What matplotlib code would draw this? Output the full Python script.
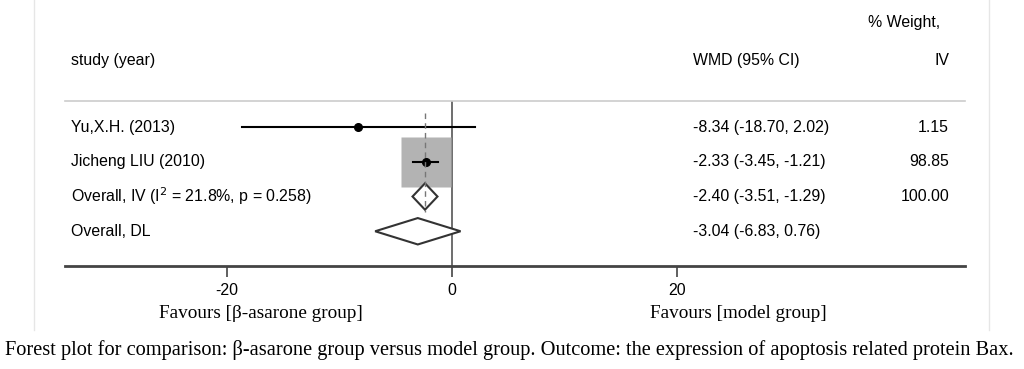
import matplotlib.pyplot as plt
from matplotlib.patches import Polygon

plt.rcParams['font.family'] = ['Liberation Sans', 'DejaVu Sans']

# data
studies = ['Yu,X.H. (2013)', 'Jicheng LIU (2010)']
est = [-8.34, -2.33]
lo = [-18.70, -3.45]
hi = [2.02, -1.21]
weight = [1.15, 98.85]

pooled_labels = ['Overall, IV (I$^{2}$ = 21.8%, p = 0.258)', 'Overall, DL']
pooled_est = [-2.40, -3.04]
pooled_lo = [-3.51, -6.83]
pooled_hi = [-1.29, 0.76]
pooled_weight = ['100.00', '']

xticks = [-20, 0, 20]

W, H = 1024, 369
fig = plt.figure(figsize=(W / 100, H / 100), dpi=100)
ax = fig.add_axes([65 / W, 1 - 266 / H, 900 / W, 165 / H])
ax.set_xlim(-34.4, 45.6)
ax.set_ylim(4.0, -0.75)

fs = 11.4
n = len(studies)
rows_all = list(range(n + len(pooled_labels)))

# study boxes and CIs
for i in range(n):
    ms = 35.3 * (weight[i] / max(weight)) ** 0.5
    ax.plot(est[i], i, marker='s', ms=ms, color='#b3b3b3', mec='none', zorder=1)
    ax.plot([lo[i], hi[i]], [i, i], color='black', lw=1.5, zorder=3)
    ax.plot(est[i], i, marker='o', ms=5.5, color='black', zorder=4)

# pooled diamonds
for j in range(len(pooled_labels)):
    r = n + j
    h = 0.38
    d = Polygon([[pooled_lo[j], r], [pooled_est[j], r - h], [pooled_hi[j], r],
                 [pooled_est[j], r + h]], closed=True, fc='white', ec='#333333',
                lw=1.5, zorder=2)
    ax.add_patch(d)

# overall line and no-effect line
ax.plot([pooled_est[0], pooled_est[0]], [-0.4, n + 0.45], color='#777777', lw=1,
        ls=(0, (4, 3)), zorder=5)
ax.axvline(0, color='#555555', lw=1.2, zorder=0)

# spines / ticks
for s in ['left', 'right']:
    ax.spines[s].set_visible(False)
ax.spines['top'].set_color('#cccccc')
ax.spines['top'].set_linewidth(1.2)
ax.spines['bottom'].set_color('#444444')
ax.spines['bottom'].set_linewidth(2)
ax.set_yticks([])
ax.set_xticks(xticks)
ax.set_xticklabels([str(t) for t in xticks], fontsize=fs)
ax.tick_params(axis='x', length=8, width=1.2, color='#444444', pad=4)

# text columns
tr = ax.get_yaxis_transform()
lx = 6 / 900
cx = 628 / 900
wx = 884 / 900
labels = studies + pooled_labels
cis = ['%.2f (%.2f, %.2f)' % (e, a, b) for e, a, b in
       zip(est + pooled_est, lo + pooled_lo, hi + pooled_hi)]
wts = ['%.2f' % w for w in weight] + pooled_weight
for r, lab, ci, wt in zip(rows_all, labels, cis, wts):
    ax.text(lx, r, lab, transform=tr, ha='left', va='center', fontsize=fs, clip_on=False)
    ax.text(cx, r, ci, transform=tr, ha='left', va='center', fontsize=fs, clip_on=False)
    ax.text(wx, r, wt, transform=tr, ha='right', va='center', fontsize=fs, clip_on=False)

ax.text(lx, -1.93, 'study (year)', transform=tr, ha='left', va='center', fontsize=fs, clip_on=False)
ax.text(cx, -1.93, 'WMD (95% CI)', transform=tr, ha='left', va='center', fontsize=fs, clip_on=False)
ax.text(wx, -1.93, 'IV', transform=tr, ha='right', va='center', fontsize=fs, clip_on=False)
ax.text(875 / 900, -3.0, '% Weight,', transform=tr, ha='right', va='center', fontsize=fs, clip_on=False)

# favours labels and caption
serif = ['Liberation Serif', 'DejaVu Serif']
fig.text(261 / W, 1 - 313 / H, 'Favours [β-asarone group]', ha='center', va='center',
         fontsize=13.8, family=serif)
fig.text(738 / W, 1 - 313 / H, 'Favours [model group]', ha='center', va='center',
         fontsize=13.8, family=serif)
fig.text(5 / W, 1 - 350 / H,
         'Forest plot for comparison: β-asarone group versus model group. '
         'Outcome: the expression of apoptosis related protein Bax.',
         ha='left', va='center', fontsize=14.7, family=serif)

# faint frame of the original figure
for px in [34, 989]:
    fig.add_artist(plt.Line2D([px / W, px / W], [1 - 330 / H, 1], color='#e6e6e6', lw=1))

fig.savefig('out.png', dpi=100)
